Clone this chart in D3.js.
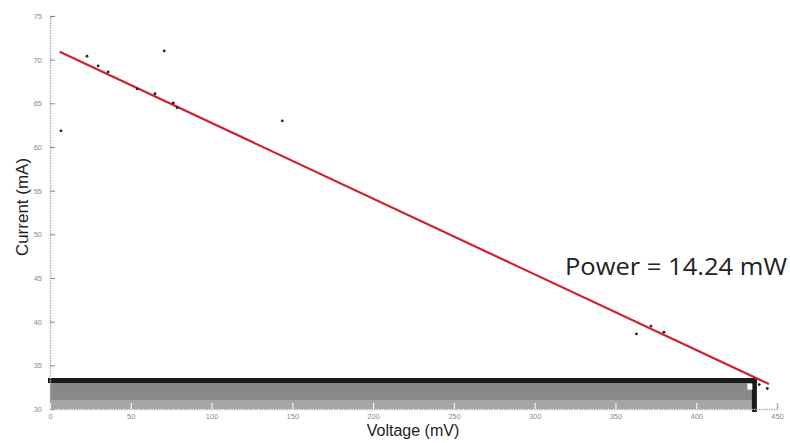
<!DOCTYPE html>
<html><head><meta charset="utf-8">
<script src="https://cdn.jsdelivr.net/npm/d3@7"></script>
<style>body{margin:0;background:#fff}svg{display:block}</style>
</head><body>
<svg id="c" width="790" height="443"></svg>
<script>
const voltage = [6.8, 22.9, 29.8, 36, 54, 65, 70.7, 76.3, 78.7, 143.8, 363, 372, 380, 439, 444];
const current = [61.85, 70.4, 69.3, 68.6, 66.65, 66.1, 71.0, 65.05, 64.5, 63.0, 38.6, 39.5, 38.8, 32.8, 32.35];
const fitV = [6, 445];
const fitI = [70.9, 32.85];
const vmp = 436, imp = 33.25, iBase = 30;
const xTicks = [0, 50, 100, 150, 200, 250, 300, 350, 400, 450];
const yTicks = [30, 35, 40, 45, 50, 55, 60, 65, 70, 75];
const powerLabel = "Power = 14.24 mW";

const svg = d3.select("#c");
const x = d3.scaleLinear().domain([0, 450]).range([50, 777]);
const y = d3.scaleLinear().domain([30, 75]).range([409, 16]);

// max power rectangle
svg.append("rect").attr("x", x(0)).attr("y", y(imp)).attr("width", x(vmp) - x(0)).attr("height", y(iBase) - y(imp)).attr("fill", "#888888");
svg.append("rect").attr("x", x(0)).attr("y", y(31.05)).attr("width", x(vmp) - x(0)).attr("height", y(iBase) - y(31.05)).attr("fill", "#a6a6a6");
svg.append("line").attr("x1", x(0) - 2).attr("x2", x(vmp) + 2).attr("y1", y(imp)).attr("y2", y(imp)).attr("stroke", "#1a1a1a").attr("stroke-width", 5);
svg.append("line").attr("x1", x(vmp)).attr("x2", x(vmp)).attr("y1", y(imp) - 2).attr("y2", y(iBase) + 3).attr("stroke", "#1a1a1a").attr("stroke-width", 5);
svg.append("rect").attr("x", x(vmp) - 7).attr("y", y(imp) + 3).attr("width", 5).attr("height", 6).attr("fill", "#fff");

// axes
const yAxis = d3.axisLeft(y).tickValues(yTicks).tickSize(-5).tickPadding(8);
const gy = svg.append("g").attr("transform", `translate(${x(0)},0)`).call(yAxis);
const xAxis = d3.axisBottom(x).tickValues(xTicks).tickSize(-6).tickPadding(5);
const gx = svg.append("g").attr("transform", `translate(0,${y(30)})`).call(xAxis);
[gy, gx].forEach(g => {
  g.select(".domain").attr("stroke", "#a8b0b8").attr("stroke-dasharray", "1.5,1").attr("stroke-width", 1.5);
  g.selectAll("text").attr("fill", "#8a8a8a").attr("font-size", 7.5).attr("font-family", "Liberation Sans, Arial, sans-serif");
});
gy.selectAll(".tick line").attr("stroke", "#888");
gx.selectAll(".tick line").attr("stroke", d => x(d) < x(vmp) ? "#f2f2f2" : "#aaa").attr("stroke-width", 1.2);

// fit line
svg.append("line").attr("x1", x(fitV[0])).attr("y1", y(fitI[0])).attr("x2", x(fitV[1])).attr("y2", y(fitI[1]))
  .attr("stroke", "#d0202e").attr("stroke-width", 2.2);

// points
svg.append("g").selectAll("circle").data(voltage).join("circle")
  .attr("cx", (d) => x(d)).attr("cy", (d, i) => y(current[i])).attr("r", 1.4).attr("fill", "#222");

// labels
svg.append("text").attr("x", 413).attr("y", 436).attr("text-anchor", "middle")
  .attr("font-family", "Liberation Sans, Arial, sans-serif").attr("font-size", 16).attr("fill", "#222").text("Voltage (mV)");
svg.append("text").attr("transform", "translate(28,207) rotate(-90)").attr("text-anchor", "middle")
  .attr("font-family", "Liberation Sans, Arial, sans-serif").attr("font-size", 17).attr("fill", "#222").text("Current (mA)");
svg.append("text").attr("x", 565).attr("y", 275).attr("textLength", 222).attr("lengthAdjust", "spacingAndGlyphs")
  .attr("font-family", "Open Sans, sans-serif").attr("font-size", 24).attr("fill", "#222").text(powerLabel);
</script>
</body></html>
